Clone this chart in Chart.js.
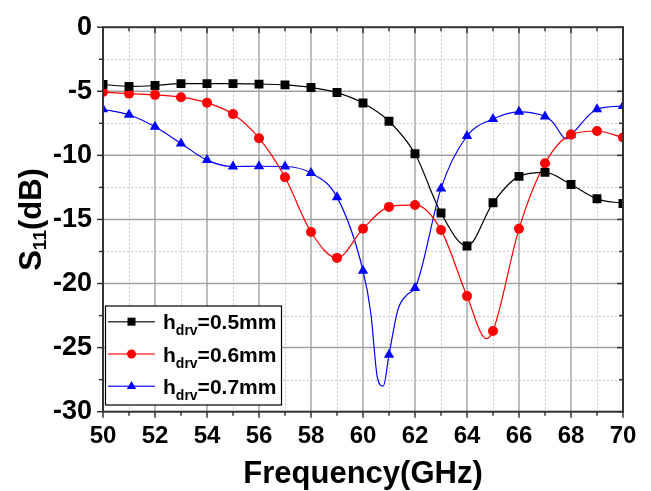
<!DOCTYPE html>
<html>
<head>
<meta charset="utf-8">
<script src="https://cdn.jsdelivr.net/npm/chart.js@4/dist/chart.umd.min.js"></script>
<style>
html,body{margin:0;padding:0;background:#fff;}
canvas{display:block;}
</style>
</head>
<body>
<canvas id="c" width="651" height="491"></canvas>
<script>
// ---- data ----
const freq = [50,51,52,53,54,55,56,57,58,59,60,61,62,63,64,65,66,67,68,69,70];
const s11_05 = [-4.47,-4.62,-4.55,-4.40,-4.40,-4.40,-4.44,-4.50,-4.70,-5.10,-5.92,-7.34,-9.88,-14.50,-17.07,-13.70,-11.64,-11.33,-12.27,-13.39,-13.75];
const s11_06 = [-5.06,-5.18,-5.28,-5.46,-5.89,-6.78,-8.66,-11.71,-15.98,-18.00,-15.73,-14.02,-13.87,-15.83,-20.98,-23.70,-15.73,-10.62,-8.38,-8.10,-8.61];
const s11_07 = [-6.40,-6.83,-7.77,-9.07,-10.37,-10.87,-10.85,-10.87,-11.38,-13.26,-19.00,-25.55,-20.35,-12.58,-8.49,-7.16,-6.60,-6.96,-8.40,-6.40,-6.15];
// extra trace points between markers
const s11_05_extraF = [];
const s11_05_extraV = [];
const s11_06_extraF = [64.75];
const s11_06_extraV = [-24.3];
const s11_07_extraF = [60.3, 60.56, 60.78, 61.35, 61.68, 62.2, 67.3, 67.6, 67.8];
const s11_07_extraV = [-22.3, -27.4, -28.0, -22.0, -20.9, -19.2, -7.4, -8.3, -8.72];
const seriesLabels = ['0.5mm','0.6mm','0.7mm'];
const xTickLabels = [50,52,54,56,58,60,62,64,66,68,70];
const yTickLabels = [0,-5,-10,-15,-20,-25,-30];

const FONT = "'Liberation Sans', Arial, Helvetica, sans-serif";
const colors = ['#000000','#ff0000','#0000ff'];
const styles = ['rect','circle','triangle'];
const radii = [6.3,5,6];

function buildPoints(f, v, ef, ev){
  const pts = f.map((x,i)=>({x:x, y:v[i], m:true}));
  ef.forEach((x,i)=>pts.push({x:x, y:ev[i], m:false}));
  pts.sort((a,b)=>a.x-b.x);
  return pts;
}
const allPts = [
  buildPoints(freq, s11_05, s11_05_extraF, s11_05_extraV),
  buildPoints(freq, s11_06, s11_06_extraF, s11_06_extraV),
  buildPoints(freq, s11_07, s11_07_extraF, s11_07_extraV)
];

const datasets = allPts.map((pts,i)=>({
  label: 'h_drv=' + seriesLabels[i],
  data: pts,
  borderColor: colors[i],
  backgroundColor: colors[i],
  borderWidth: 1.2,
  pointStyle: styles[i],
  pointRadius: ctx => (ctx.raw && ctx.raw.m) ? radii[i] : 0,
  pointHoverRadius: ctx => (ctx.raw && ctx.raw.m) ? radii[i] : 0,
  pointBorderWidth: 0,
  pointBackgroundColor: colors[i],
  cubicInterpolationMode: 'monotone',
  tension: 0.4,
  fill: false
}));

function drawMarker(ctx, style, x, y, r, color){
  ctx.save();
  ctx.fillStyle = color;
  ctx.beginPath();
  if (style === 'rect'){
    const s = r*Math.SQRT1_2;
    ctx.rect(x-s, y-s, 2*s, 2*s);
  } else if (style === 'circle'){
    ctx.arc(x, y, r, 0, Math.PI*2);
  } else {
    const a = Math.PI/2;
    ctx.moveTo(x, y - r);
    ctx.lineTo(x + Math.cos(Math.PI/6)*r, y + Math.sin(Math.PI/6)*r);
    ctx.lineTo(x - Math.cos(Math.PI/6)*r, y + Math.sin(Math.PI/6)*r);
    ctx.closePath();
  }
  ctx.fill();
  ctx.restore();
}

const framePlugin = {
  id: 'frame',
  beforeDatasetsDraw(chart){
    const {ctx, chartArea:a, scales:{x, y}} = chart;
    ctx.save();
    // minor dotted grid
    ctx.strokeStyle = '#c8c8c8';
    ctx.lineWidth = 1;
    ctx.setLineDash([2,2]);
    for (let v = x.min + 1; v < x.max; v += 2){
      const px = Math.round(x.getPixelForValue(v)) + 0.5;
      ctx.beginPath(); ctx.moveTo(px, a.top); ctx.lineTo(px, a.bottom); ctx.stroke();
    }
    for (let v = y.max - 2.5; v > y.min; v -= 5){
      const py = Math.round(y.getPixelForValue(v)) + 0.5;
      ctx.beginPath(); ctx.moveTo(a.left, py); ctx.lineTo(a.right, py); ctx.stroke();
    }
    ctx.setLineDash([]);
    // major grid
    ctx.strokeStyle = '#bdbdbd';
    ctx.lineWidth = 2;
    for (let v = x.min + 2; v < x.max; v += 2){
      const px = Math.round(x.getPixelForValue(v));
      ctx.beginPath(); ctx.moveTo(px, a.top); ctx.lineTo(px, a.bottom); ctx.stroke();
    }
    ctx.strokeStyle = '#a2a2a2';
    ctx.lineWidth = 1.5;
    for (let v = y.max - 5; v > y.min; v -= 5){
      const py = y.getPixelForValue(v);
      ctx.beginPath(); ctx.moveTo(a.left, py); ctx.lineTo(a.right, py); ctx.stroke();
    }
    ctx.restore();
  },
  afterDatasetsDraw(chart){
    const {ctx, chartArea:a, scales:{x, y}} = chart;
    ctx.save();
    ctx.strokeStyle = '#333';
    ctx.lineWidth = 1.5;
    // ticks
    for (let v = x.min; v <= x.max; v += 1){
      const px = x.getPixelForValue(v);
      const major = (v % 2 === 0);
      const L = major ? 6 : 4;
      ctx.beginPath(); ctx.moveTo(px, a.bottom); ctx.lineTo(px, a.bottom + L); ctx.stroke();
      ctx.beginPath(); ctx.moveTo(px, a.top); ctx.lineTo(px, a.top + L); ctx.stroke();
    }
    for (let v = y.max; v >= y.min; v -= 2.5){
      const py = y.getPixelForValue(v);
      const major = (v % 5 === 0);
      const L = major ? 6 : 4;
      ctx.beginPath(); ctx.moveTo(a.left, py); ctx.lineTo(a.left - L, py); ctx.stroke();
      ctx.beginPath(); ctx.moveTo(a.right, py); ctx.lineTo(a.right - L, py); ctx.stroke();
    }
    // frame
    ctx.lineWidth = 2;
    ctx.strokeRect(a.left, a.top, a.right - a.left, a.bottom - a.top);
    ctx.restore();
  },
  afterDraw(chart){
    const {ctx, chartArea:a} = chart;
    ctx.save();
    ctx.fillStyle = '#000';
    // x title
    ctx.font = "bold 31px " + FONT;
    ctx.textAlign = 'center';
    ctx.textBaseline = 'alphabetic';
    ctx.fillText('Frequency(GHz)', (a.left + a.right)/2, 483);
    // y title with subscript
    ctx.save();
    ctx.translate(41, (a.top + a.bottom)/2);
    ctx.rotate(-Math.PI/2);
    ctx.textAlign = 'left';
    const big = "bold 31px " + FONT, small = "bold 19px " + FONT;
    ctx.font = big; const w1 = ctx.measureText('S').width;
    ctx.font = small; const w2 = ctx.measureText('11').width;
    ctx.font = big; const w3 = ctx.measureText('(dB)').width;
    let sx = -(w1 + w2 + w3)/2;
    ctx.font = big; ctx.fillText('S', sx, 0); sx += w1;
    ctx.font = small; ctx.fillText('11', sx, 5); sx += w2;
    ctx.font = big; ctx.fillText('(dB)', sx, 0);
    ctx.restore();
    // legend
    const bx = 105.5, by = 306, bw = 176, bh = 99;
    ctx.fillStyle = '#fff';
    ctx.fillRect(bx, by, bw, bh);
    ctx.strokeStyle = '#000';
    ctx.lineWidth = 1.2;
    ctx.strokeRect(bx, by, bw, bh);
    const rows = [321.7, 354, 386.3];
    chart.data.datasets.forEach((ds, i)=>{
      const ly = rows[i];
      ctx.strokeStyle = colors[i];
      ctx.globalAlpha = 0.75;
      ctx.lineWidth = 1.5;
      ctx.beginPath(); ctx.moveTo(108, ly); ctx.lineTo(155, ly); ctx.stroke();
      ctx.globalAlpha = 1;
      drawMarker(ctx, styles[i], 131.5, ly, radii[i]*0.9, colors[i]);
      ctx.fillStyle = '#000';
      ctx.textAlign = 'left';
      let tx = 163;
      const base = ly + 7.5;
      ctx.font = "bold 21px " + FONT;
      ctx.fillText('h', tx, base); tx += ctx.measureText('h').width;
      ctx.font = "bold 14px " + FONT;
      ctx.fillText('drv', tx, base + 6); tx += ctx.measureText('drv').width;
      ctx.font = "bold 21px " + FONT;
      ctx.fillText('=' + seriesLabels[i], tx, base);
    });
    ctx.restore();
  }
};

new Chart(document.getElementById('c').getContext('2d'), {
  type: 'line',
  data: { datasets: datasets },
  options: {
    responsive: false,
    animation: false,
    devicePixelRatio: 1,
    layout: { padding: { left: 0, right: 28, top: 17.7, bottom: 0 } },
    plugins: { legend: { display: false }, tooltip: { enabled: false } },
    scales: {
      x: {
        type: 'linear', min: 50, max: 70,
        afterFit(s){ s.height = 79.3; },
        afterBuildTicks(s){ s.ticks = xTickLabels.map(v=>({value:v})); },
        grid: { display: false, drawTicks: false },
        border: { display: false },
        ticks: { autoSkip: false, maxRotation: 0, padding: 10, color: '#000',
                 font: { family: FONT, size: 24, weight: 'bold' } }
      },
      y: {
        type: 'linear', min: -30, max: 0,
        afterFit(s){ s.width = 103; },
        afterBuildTicks(s){ s.ticks = yTickLabels.map(v=>({value:v})); },
        grid: { display: false, drawTicks: false },
        border: { display: false },
        ticks: { autoSkip: false, padding: 11, color: '#000',
                 font: { family: FONT, size: 27, weight: 'bold' } }
      }
    }
  },
  plugins: [framePlugin]
});
</script>
</body>
</html>
